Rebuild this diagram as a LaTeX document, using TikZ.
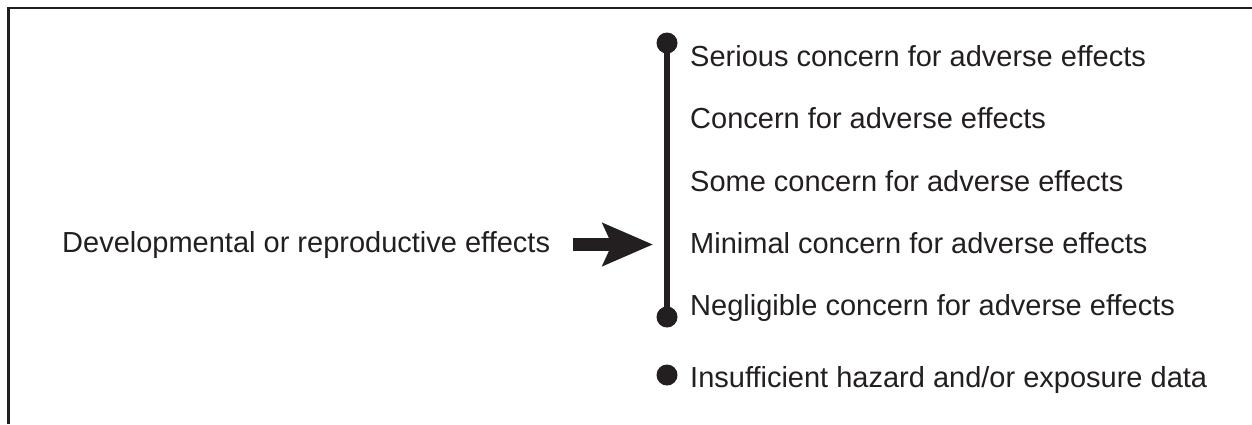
\documentclass[tikz,border=0pt]{standalone}
\usepackage{fontspec}
\setmainfont{Liberation Sans}
\usetikzlibrary{arrows.meta}
\definecolor{ink}{HTML}{231F20}

\tikzset{
  lbl/.style={anchor=base west, inner sep=0pt, text=ink, font=\fontsize{29}{34}\selectfont},
  bigarrow/.style={line width=13pt, draw=ink, -{Stealth[length=50pt, width=42pt, inset=9pt]}},
}

\begin{document}
\begin{tikzpicture}[x=1pt, y=-1pt]
      \useasboundingbox (0,0) rectangle (1252,424);
      \draw[ink, line width=2.6pt] (8.5,424) -- (8.5,8) -- (1252,8);
      \coordinate (bartop) at (667,43);
      \coordinate (barbot) at (667,317);
      \coordinate (nodata) at (667,375);
      \draw[ink, line width=6.5pt] (bartop) -- (barbot);
      \fill[ink] (bartop) circle (10.5pt);
      \fill[ink] (barbot) circle (10.5pt);
      \fill[ink] (nodata) circle (10.5pt);
      \node[lbl] (dev) at (62,252) {Developmental or reproductive effects};
      \node[lbl] (serious) at (690,66) {Serious concern for adverse effects};
      \node[lbl] (concern) at (690,128.5) {Concern for adverse effects};
      \node[lbl] (some) at (690,191) {Some concern for adverse effects};
      \node[lbl] (minimal) at (690,253.5) {Minimal concern for adverse effects};
      \node[lbl] (neglig) at (690,315) {Negligible concern for adverse effects};
      \node[lbl] (insuff) at (690,387) {Insufficient hazard and/or exposure data};
      \draw[bigarrow, shorten <=23pt, shorten >=14pt] (dev.east |- 0,244.5) -- (bartop |- 0,244.5);
    \end{tikzpicture}
\end{document}
